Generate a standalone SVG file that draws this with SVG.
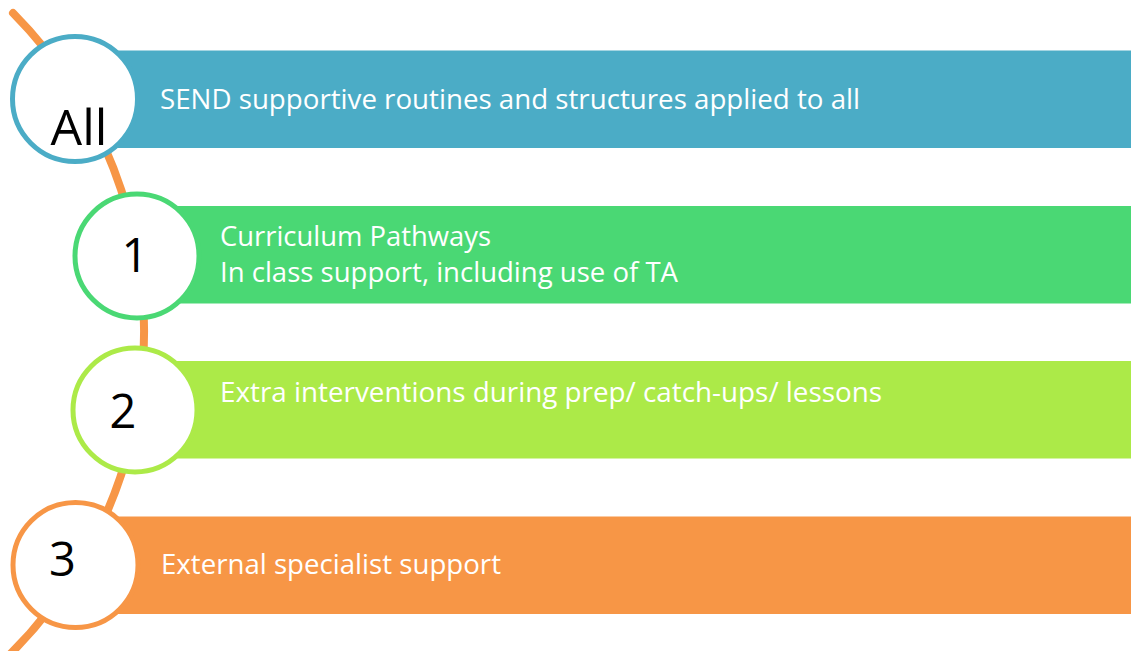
<svg xmlns="http://www.w3.org/2000/svg" width="1131" height="651" viewBox="0 0 1131 651">
<style>
.bar-text{font-family:"Open Sans","Liberation Sans",sans-serif;font-size:27px;fill:#ffffff}
.num{font-family:"Open Sans","Liberation Sans",sans-serif;fill:#000000}
.ring{fill:#ffffff;stroke-width:5}
</style>
<rect x="0" y="0" width="1131" height="651" fill="#ffffff"/>
<g id="connectors">
<path d="M13,13 A454,454 0 0 1 -44,700" fill="none" stroke="#f79646" stroke-width="8" stroke-linecap="round"/>
</g>
<g id="node-all">
<rect x="75" y="50.5" width="1056" height="97.5" fill="#4bacc6"/>
<circle class="ring" cx="75" cy="99" r="62.5" stroke="#4bacc6"/>
<text class="num" x="79" y="145" font-size="50" text-anchor="middle">All</text>
<text class="bar-text" x="160" y="109" textLength="700" lengthAdjust="spacingAndGlyphs">SEND supportive routines and structures applied to all</text>
</g>
<g id="node-1">
<rect x="137" y="206" width="994" height="97.5" fill="#4ad874"/>
<circle class="ring" cx="137" cy="256" r="62" stroke="#4ad874"/>
<text class="num" x="135" y="272" font-size="47" text-anchor="middle">1</text>
<text class="bar-text" x="220" y="246" textLength="271" lengthAdjust="spacingAndGlyphs">Curriculum Pathways</text>
<text class="bar-text" x="220" y="282" textLength="458" lengthAdjust="spacingAndGlyphs">In class support, including use of TA</text>
</g>
<g id="node-2">
<rect x="135" y="361" width="996" height="97.5" fill="#acea48"/>
<circle class="ring" cx="135" cy="410" r="62" stroke="#acea48"/>
<text class="num" x="123" y="428" font-size="47" text-anchor="middle">2</text>
<text class="bar-text" x="220" y="402" textLength="662" lengthAdjust="spacingAndGlyphs">Extra interventions during prep/ catch-ups/ lessons</text>
</g>
<g id="node-3">
<rect x="75" y="516.5" width="1056" height="97.5" fill="#f79646"/>
<circle class="ring" cx="75.5" cy="565" r="62.5" stroke="#f79646"/>
<text class="num" x="62.5" y="576" font-size="47" text-anchor="middle">3</text>
<text class="bar-text" x="161" y="574" textLength="340" lengthAdjust="spacingAndGlyphs">External specialist support</text>
</g>
</svg>
